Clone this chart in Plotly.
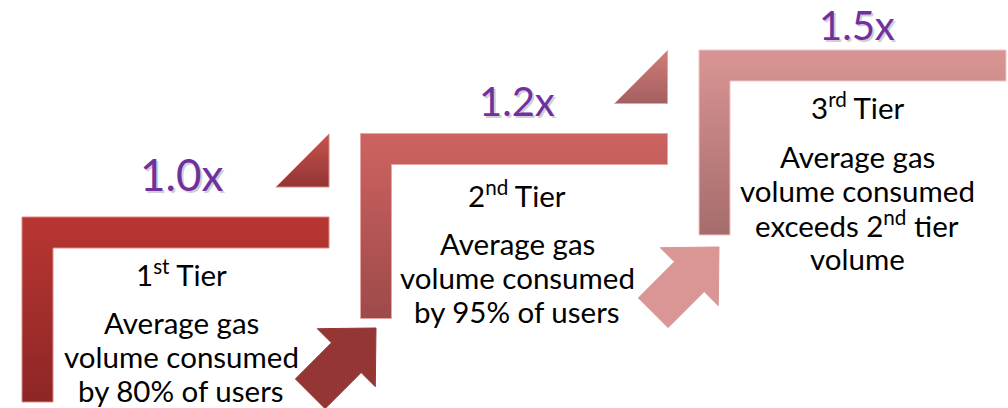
import plotly.graph_objects as go
import math

# ---- data ----
tier_labels = ["1<sup>st</sup> Tier", "2<sup>nd</sup> Tier", "3<sup>rd</sup> Tier"]
multipliers = ["1.0x", "1.2x", "1.5x"]
descriptions = [
    ["Average gas", "volume consumed", "by 80% of users"],
    ["Average gas", "volume consumed", "by 95% of users"],
    ["Average gas", "volume consumed", "exceeds 2<sup>nd</sup> tier", "volume"],
]

# ---- styling / layout constants ----
W, H = 1008, 408
step_dx, step_dy = 338.5, -83.5
L_x0, L_y0, L_len, L_thick, L_height = 22, 217, 307, 31, 185
L_top_colors = ["#B83632", "#CD6360", "#D99594"]
L_bot_colors = ["#8D2626", "#9E4A4A", "#A66C6C"]
L_edge_colors = ["#D98A86", "#E6A4A2", "#F0C4C3"]
tri_colors_top = ["#C8534F", "#D27C7A"]
tri_colors_bot = ["#933534", "#A35F5F"]
arrow_colors = ["#943634", "#D99694"]
arrow_tips = [(376, 328), (719, 247)]
text_x = [181, 517, 857]
label_y = [273, 194, 106]
desc_y0 = [322, 243, 156]
line_gap = 34.2
mult_y = [173.5, 101, 25]
mult_size = [44, 40, 40]
body_size = 29.5
purple = "#7030A0"
FONT = "Lato"

fig = go.Figure()


def add_poly(xs, ys, top, bot, edge, y_top, y_bot):
    fig.add_trace(go.Scatter(
        x=xs + [xs[0]], y=ys + [ys[0]], mode="lines", fill="toself",
        line=dict(color=edge, width=1),
        fillgradient=dict(type="vertical", start=y_top, stop=y_bot,
                          colorscale=[[0, top], [1, bot]]),
        hoverinfo="skip", showlegend=False))


# L shapes
for i in range(3):
    x0 = L_x0 + step_dx * i
    y0 = L_y0 + step_dy * i
    xs = [x0, x0 + L_len, x0 + L_len, x0 + L_thick, x0 + L_thick, x0]
    ys = [y0, y0, y0 + L_thick, y0 + L_thick, y0 + L_height, y0 + L_height]
    add_poly(xs, ys, L_top_colors[i], L_bot_colors[i], L_edge_colors[i], y0, y0 + L_height)

# triangles (between steps)
tri_size = 53
for i in range(2):
    R = L_x0 + L_len + step_dx * i
    B = L_y0 - 30 + step_dy * i
    xs = [R - tri_size, R, R]
    ys = [B, B, B - tri_size]
    add_poly(xs, ys, tri_colors_top[i], tri_colors_bot[i], L_edge_colors[i], B - tri_size, B)

# arrows
Hh, Wh, Sw, Ls = 42, 41, 21, 51
d = (1 / math.sqrt(2), -1 / math.sqrt(2))
n = (1 / math.sqrt(2), 1 / math.sqrt(2))
for i in range(2):
    tx, ty = arrow_tips[i]
    bx, by = tx - Hh * d[0], ty - Hh * d[1]
    ex, ey = bx - Ls * d[0], by - Ls * d[1]
    pts = [
        (tx, ty),
        (bx + Wh * n[0], by + Wh * n[1]),
        (bx + Sw * n[0], by + Sw * n[1]),
        (ex + Sw * n[0], ey + Sw * n[1]),
        (ex - Sw * n[0], ey - Sw * n[1]),
        (bx - Sw * n[0], by - Sw * n[1]),
        (bx - Wh * n[0], by - Wh * n[1]),
    ]
    xs = [p[0] for p in pts] + [pts[0][0]]
    ys = [p[1] for p in pts] + [pts[0][1]]
    fig.add_trace(go.Scatter(x=xs, y=ys, mode="lines", fill="toself",
                             fillcolor=arrow_colors[i],
                             line=dict(color=arrow_colors[i], width=1),
                             hoverinfo="skip", showlegend=False))

# texts
for i in range(3):
    fig.add_annotation(x=text_x[i], y=label_y[i], text=tier_labels[i], showarrow=False,
                       xanchor="center", yanchor="middle",
                       font=dict(family=FONT, size=body_size, color="#000000"))
    for j, line in enumerate(descriptions[i]):
        fig.add_annotation(x=text_x[i], y=desc_y0[i] + j * line_gap, text=line, showarrow=False,
                           xanchor="center", yanchor="middle",
                           font=dict(family=FONT, size=body_size, color="#000000"))
    # shadow + multiplier
    fig.add_annotation(x=text_x[i] + 2, y=mult_y[i] + 2, text=multipliers[i], showarrow=False,
                       xanchor="center", yanchor="middle",
                       font=dict(family=FONT, size=mult_size[i], color="rgba(120,120,120,0.35)"))
    fig.add_annotation(x=text_x[i], y=mult_y[i], text=multipliers[i], showarrow=False,
                       xanchor="center", yanchor="middle",
                       font=dict(family=FONT, size=mult_size[i], color=purple))

fig.update_layout(
    width=W, height=H, margin=dict(l=0, r=0, t=0, b=0),
    paper_bgcolor="white", plot_bgcolor="white",
    xaxis=dict(range=[0, W], visible=False, fixedrange=True),
    yaxis=dict(range=[H, 0], visible=False, fixedrange=True),
    showlegend=False,
)
fig.write_html("out.html")
